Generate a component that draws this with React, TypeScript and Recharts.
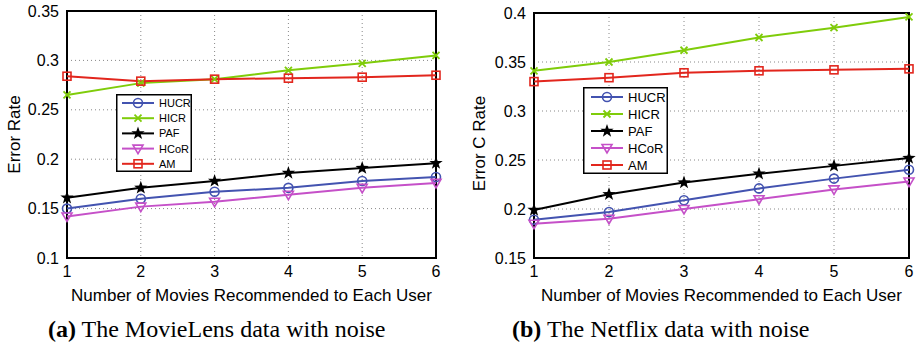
import { LineChart, Line, XAxis, YAxis, CartesianGrid, ReferenceArea } from 'recharts'

const steps = [1, 2, 3, 4, 5, 6]
const seriesNames = ['HUCR', 'HICR', 'PAF', 'HCoR', 'AM']

// MovieLens with noise
const mlHUCR = [0.15, 0.16, 0.167, 0.171, 0.178, 0.182]
const mlHICR = [0.265, 0.277, 0.281, 0.29, 0.297, 0.305]
const mlPAF = [0.161, 0.171, 0.178, 0.186, 0.191, 0.196]
const mlHCoR = [0.142, 0.152, 0.157, 0.164, 0.171, 0.176]
const mlAM = [0.284, 0.279, 0.281, 0.282, 0.283, 0.285]
const mlTicks = [0.1, 0.15, 0.2, 0.25, 0.3, 0.35]

// Netflix with noise
const nfHUCR = [0.189, 0.197, 0.209, 0.221, 0.231, 0.24]
const nfHICR = [0.341, 0.35, 0.362, 0.375, 0.385, 0.396]
const nfPAF = [0.199, 0.215, 0.227, 0.236, 0.244, 0.252]
const nfHCoR = [0.185, 0.19, 0.2, 0.21, 0.22, 0.228]
const nfAM = [0.33, 0.334, 0.339, 0.341, 0.342, 0.343]
const nfTicks = [0.15, 0.2, 0.25, 0.3, 0.35, 0.4]

const COLORS: Record<string, string> = {
  HUCR: '#4353b0',
  HICR: '#7fcc0a',
  PAF: '#000000',
  HCoR: '#c550c8',
  AM: '#e2261d',
}

const FONT = '"Liberation Sans", Arial, sans-serif'

function buildData(cols: number[][]) {
  return steps.map((x, i) => {
    const row: Record<string, number> = { x }
    seriesNames.forEach((n, j) => (row[n] = cols[j][i]))
    return row
  })
}

const mlData = buildData([mlHUCR, mlHICR, mlPAF, mlHCoR, mlAM])
const nfData = buildData([nfHUCR, nfHICR, nfPAF, nfHCoR, nfAM])

function Marker({ name, cx, cy }: { name: string; cx: number; cy: number }) {
  const c = COLORS[name]
  if (name === 'HUCR') return <circle cx={cx} cy={cy} r={4.5} fill="none" stroke={c} strokeWidth={1.6} />
  if (name === 'HICR') {
    const s = 3.5
    return <path d={`M${cx - s},${cy - s}L${cx + s},${cy + s}M${cx - s},${cy + s}L${cx + s},${cy - s}`} stroke={c} strokeWidth={1.8} />
  }
  if (name === 'PAF') {
    const pts: string[] = []
    for (let k = 0; k < 10; k++) {
      const r = k % 2 === 0 ? 7 : 2.8
      const a = -Math.PI / 2 + (k * Math.PI) / 5
      pts.push(`${cx + r * Math.cos(a)},${cy + r * Math.sin(a)}`)
    }
    return <polygon points={pts.join(' ')} fill="#000" />
  }
  if (name === 'HCoR') {
    return <polygon points={`${cx - 5},${cy - 3.5} ${cx + 5},${cy - 3.5} ${cx},${cy + 5}`} fill="none" stroke={c} strokeWidth={1.6} />
  }
  return <rect x={cx - 4} y={cy - 4} width={8} height={8} fill="none" stroke={c} strokeWidth={1.6} />
}

type Box = { left: number; top: number; width: number; height: number; first: number; row: number; font: number; lineX: number }

function LegendBox({ b }: { b: Box }) {
  return (
    <svg width={b.width} height={b.height} style={{ position: 'absolute', left: b.left, top: b.top }}>
      <rect x={0.75} y={0.75} width={b.width - 1.5} height={b.height - 1.5} fill="#fff" stroke="#000" strokeWidth={1.5} />
      {seriesNames.map((n, i) => {
        const y = b.first + i * b.row
        return (
          <g key={n}>
            <line x1={b.lineX} x2={b.lineX + 32} y1={y} y2={y} stroke={COLORS[n]} strokeWidth={2} />
            <Marker name={n} cx={b.lineX + 16} cy={y} />
            <text x={b.lineX + 37} y={y} dy="0.36em" fontSize={b.font} fontFamily={FONT} fill="#000">{n}</text>
          </g>
        )
      })}
    </svg>
  )
}

type PanelProps = {
  data: Record<string, number>[]
  ticks: number[]
  yLabel: string
  yLabelDy: number
  yLabelX: number
  margin: { top: number; right: number; left: number; bottom: number }
  yAxisWidth: number
}

function Panel({ data, ticks, yLabel, yLabelDy, yLabelX, margin, yAxisWidth }: PanelProps) {
  const yMin = ticks[0]
  const yMax = ticks[ticks.length - 1]
  return (
    <LineChart width={460} height={310} data={data} margin={margin}>
      <CartesianGrid strokeDasharray="1 3" stroke="#888" />
      <XAxis
        dataKey="x"
        type="number"
        domain={[1, 6]}
        ticks={steps}
        height={52}
        tickLine={false}
        axisLine={false}
        tick={{ fill: '#000', fontSize: 16, fontFamily: FONT }}
        label={{
          content: ({ viewBox }: any) => (
            <text x={viewBox.x + viewBox.width / 2} y={viewBox.y + 43} textAnchor="middle" fontSize={17} fontFamily={FONT} fill="#000">
              Number of Movies Recommended to Each User
            </text>
          ),
        }}
      />
      <YAxis
        type="number"
        domain={[yMin, yMax]}
        ticks={ticks}
        width={yAxisWidth}
        tickLine={false}
        axisLine={false}
        tick={{ fill: '#000', fontSize: 16, fontFamily: FONT }}
        label={{
          content: ({ viewBox }: any) => {
            const y = viewBox.y + viewBox.height / 2 + yLabelDy
            return (
              <text x={yLabelX} y={y} transform={`rotate(-90, ${yLabelX}, ${y})`} textAnchor="middle" dy="0.35em" fontSize={17} fontFamily={FONT} fill="#000">
                {yLabel}
              </text>
            )
          },
        }}
      />
      <ReferenceArea x1={1} x2={6} y1={yMin} y2={yMax} fill="none" stroke="#000" strokeWidth={2} />
      {seriesNames.map((n) => (
        <Line
          key={n}
          type="linear"
          dataKey={n}
          stroke={COLORS[n]}
          strokeWidth={2}
          isAnimationActive={false}
          dot={(p: any) => <Marker key={`${n}-${p.index}`} name={n} cx={p.cx} cy={p.cy} />}
          activeDot={false}
        />
      ))}
    </LineChart>
  )
}

const captionStyle: React.CSSProperties = {
  position: 'absolute',
  top: 315,
  fontFamily: '"Liberation Serif", "Times New Roman", serif',
  fontSize: 24,
  lineHeight: '28px',
  whiteSpace: 'nowrap',
  color: '#000',
}

export default function App() {
  return (
    <div style={{ position: 'absolute', left: 0, top: 0, width: 918, height: 347, background: '#fff', overflow: 'hidden' }}>
      <div style={{ position: 'absolute', left: 0, top: 0 }}>
        <Panel
          data={mlData}
          ticks={mlTicks}
          yLabel="Error Rate"
          yLabelDy={0}
          yLabelX={14}
          margin={{ top: 11, right: 24, left: 0, bottom: 0 }}
          yAxisWidth={67}
        />
      </div>
      <div style={{ position: 'absolute', left: 458, top: 0 }}>
        <Panel
          data={nfData}
          ticks={nfTicks}
          yLabel="Error C Rate"
          yLabelDy={8}
          yLabelX={21}
          margin={{ top: 13, right: 9, left: 0, bottom: 0 }}
          yAxisWidth={76}
        />
      </div>
      <LegendBox b={{ left: 116, top: 94, width: 76, height: 78, first: 9, row: 15.2, font: 11, lineX: 6 }} />
      <LegendBox b={{ left: 583, top: 87, width: 85, height: 87, first: 10, row: 17, font: 13, lineX: 8 }} />
      <div style={{ ...captionStyle, left: 48 }}>
        <b>(a)</b> The MovieLens data with noise
      </div>
      <div style={{ ...captionStyle, left: 512 }}>
        <b>(b)</b> The Netflix data with noise
      </div>
    </div>
  )
}
